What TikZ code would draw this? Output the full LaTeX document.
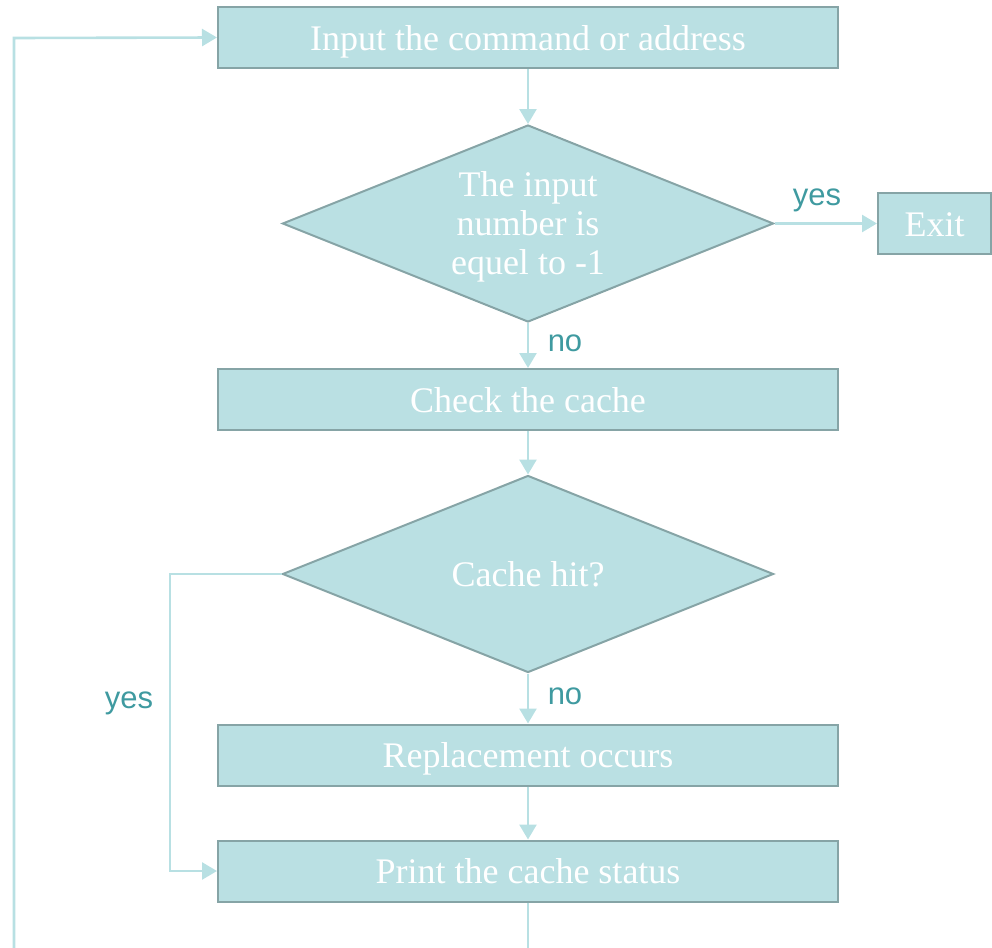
\documentclass[tikz,border=0pt]{standalone}
\usepackage{fontspec}
\setmainfont{Liberation Serif}
\newfontfamily\labelfont{Liberation Sans}
\usetikzlibrary{shapes.geometric,arrows.meta}
\definecolor{boxfill}{HTML}{BAE0E3}
\definecolor{boxline}{HTML}{86A4A6}
\definecolor{flowline}{HTML}{B8E0E3}
\definecolor{labeltext}{HTML}{3F9AA0}
\tikzset{
  stepbox/.style={draw=boxline, line width=1pt, fill=boxfill, text=white,
    minimum width=310pt, minimum height=30.5pt, inner sep=0pt,
    text height=12.5pt, text depth=0pt},
  decision/.style={diamond, draw=boxline, line width=1pt, fill=boxfill,
    minimum width=245.5pt, minimum height=98.5pt, inner sep=0pt},
  inside/.style={text=white, align=center},
  flow/.style={draw=flowline, line width=1.3pt, -{Triangle[length=7.5pt,width=8.5pt]}},
  answer/.style={text=labeltext, font=\labelfont\fontsize{15.5}{18}\selectfont}
}
\begin{document}
\begin{tikzpicture}[x=0.5pt, y=-0.5pt, font=\fontsize{18}{19.5}\selectfont]
\useasboundingbox (0,0) rectangle (992,948);
\clip (0,0) rectangle (992,948);

\node[stepbox] (input) at (528,37.5) {Input the command or address};
\node[decision, label={[inside, yshift=-1.5pt]center:The input\\number is\\equel to -1}] (minus) at (528,223.5) {};
\node[stepbox, minimum width=56.5pt] (exit) at (934.5,223.5) {Exit};
\node[stepbox] (check) at (528,399.5) {Check the cache};
\node[decision, label={[inside, text height=12.5pt, text depth=0pt]center:Cache hit?}] (hit) at (528,574) {};
\node[stepbox] (replace) at (528,755) {Replacement occurs};
\node[stepbox] (print) at (528,871) {Print the cache status};

\coordinate (loopbottom) at (528,950);
\coordinate (loopleft) at (14,950);
\coordinate (loopcorner) at (14,38);
\coordinate (hitcorner) at (170,574);
\coordinate (printcorner) at (170,871);

\draw[flow] (input) -- (minus);
\draw[flow] (minus) -- (exit);
\draw[flow] (minus) -- (check);
\draw[flow] (check) -- (hit);
\draw[flow] (hit) -- (replace);
\draw[flow] (replace) -- (print);
\draw[flow] (hit.west) -- (hitcorner) -- (printcorner) -- (print.west);
\draw[draw=flowline, line width=1.3pt] (print.south) -- (loopbottom);
\draw[flow] (loopleft) -- (loopcorner) -- (input.west);

\node[answer] (yesexit) at (817,200) {yes};
\node[answer] (nominus) at (565,343) {no};
\node[answer] (nohit) at (565,696) {no};
\node[answer] (yeshit) at (129,703) {yes};

\end{tikzpicture}
\end{document}
